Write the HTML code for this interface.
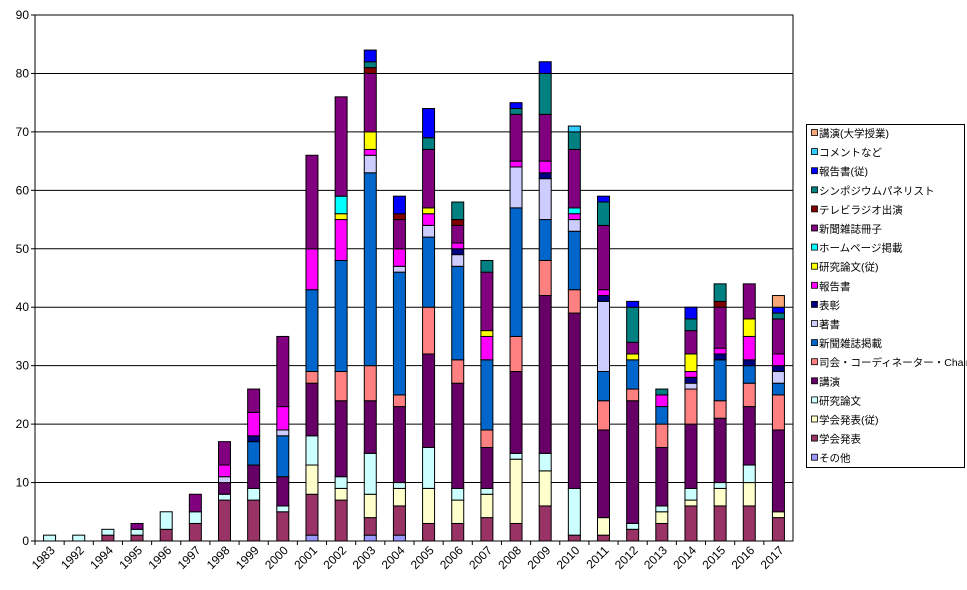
<!DOCTYPE html>
<html><head><meta charset="utf-8"><style>
body{margin:0;background:#fff;}
svg{display:block;font-family:"Liberation Sans","Noto Sans CJK JP",sans-serif;}
</style></head><body>
<svg id="chart" width="967" height="590" viewBox="0 0 967 590" xmlns="http://www.w3.org/2000/svg">
<g id="grid"></g>
<g id="bars"></g>
<g id="axes"></g>
<g id="legend"></g>
</svg>
<script>
const categories = ["1983","1992","1994","1995","1996","1997","1998","1999","2000","2001","2002","2003","2004","2005","2006","2007","2008","2009","2010","2011","2012","2013","2014","2015","2016","2017"];
const seriesNames = ["その他","学会発表","学会発表(従)","研究論文","講演","司会・コーディネーター・Chair","新聞雑誌掲載","著書","表彰","報告書","研究論文(従)","ホームページ掲載","新聞雑誌冊子","テレビラジオ出演","シンポジウムパネリスト","報告書(従)","コメントなど","講演(大学授業)"];
const sOther    = [0,0,0,0,0,0,0,0,0,1,0,1,1,0,0,0,0,0,0,0,0,0,0,0,0,0];
const sGakkai   = [0,0,1,1,2,3,7,7,5,7,7,3,5,3,3,4,3,6,1,1,2,3,6,6,6,4];
const sGakkaiJu = [0,0,0,0,0,0,0,0,0,5,2,4,3,6,4,4,11,6,0,3,0,2,1,3,4,1];
const sRonbun   = [1,1,1,1,3,2,1,2,1,5,2,7,1,7,2,1,1,3,8,0,1,1,2,1,3,0];
const sKoen     = [0,0,0,0,0,0,2,4,5,9,13,9,13,16,18,7,14,27,30,15,21,10,11,11,10,14];
const sShikai   = [0,0,0,0,0,0,0,0,0,2,5,6,2,8,4,3,6,6,4,5,2,4,6,3,4,6];
const sKeisai   = [0,0,0,0,0,0,0,4,7,14,19,33,21,12,16,12,22,7,10,5,5,3,0,7,3,2];
const sChosho   = [0,0,0,0,0,0,1,0,1,0,0,3,1,2,2,0,7,7,2,12,0,0,1,0,0,2];
const sHyosho   = [0,0,0,0,0,0,0,1,0,0,0,0,0,0,1,0,0,1,0,1,0,0,1,1,1,1];
const sHokoku   = [0,0,0,0,0,0,2,4,4,7,7,1,3,2,1,4,1,2,1,1,0,2,1,1,4,2];
const sRonbunJu = [0,0,0,0,0,0,0,0,0,0,1,3,0,1,0,1,0,0,0,0,1,0,3,0,3,0];
const sHP       = [0,0,0,0,0,0,0,0,0,0,3,0,0,0,0,0,0,0,1,0,0,0,0,0,0,0];
const sSasshi   = [0,0,0,1,0,3,4,4,12,16,17,10,5,10,3,10,8,8,10,11,2,0,4,7,6,6];
const sTV       = [0,0,0,0,0,0,0,0,0,0,0,1,1,0,1,0,0,0,0,0,0,0,0,1,0,0];
const sSympo    = [0,0,0,0,0,0,0,0,0,0,0,1,0,2,3,2,1,7,3,4,6,1,2,3,0,1];
const sHokokuJu = [0,0,0,0,0,0,0,0,0,0,0,2,3,5,0,0,1,2,0,1,1,0,2,0,0,1];
const sComment  = [0,0,0,0,0,0,0,0,0,0,0,0,0,0,0,0,0,0,1,0,0,0,0,0,0,0];
const sDaigaku  = [0,0,0,0,0,0,0,0,0,0,0,0,0,0,0,0,0,0,0,0,0,0,0,0,0,2];
const yTicks = [0,10,20,30,40,50,60,70,80,90];

const series = [sOther,sGakkai,sGakkaiJu,sRonbun,sKoen,sShikai,sKeisai,sChosho,sHyosho,sHokoku,sRonbunJu,sHP,sSasshi,sTV,sSympo,sHokokuJu,sComment,sDaigaku];
const colors = ["#9999FF","#993366","#FFFFCC","#CCFFFF","#660066","#FF8080","#0066CC","#CCCCFF","#000080","#FF00FF","#FFFF00","#00FFFF","#800080","#800000","#008080","#0000FF","#33CCFF","#F8A878"];
const keys = ["other","gakkai","gakkai-ju","ronbun","koen","shikai","keisai","chosho","hyosho","hokoku","ronbun-ju","homepage","sasshi","tv-radio","symposium","hokoku-ju","comment","koen-daigaku"];

const NS="http://www.w3.org/2000/svg";
const L=35,R=793,T=15,B=541,yMax=90;
const step=(R-L)/categories.length, bw=12;
function yS(v){return B-(v/yMax)*(B-T);}
function xS(i){return L+step*(i+0.5);}
function mk(tag,attrs,parent){const e=document.createElementNS(NS,tag);for(const k in attrs)e.setAttribute(k,attrs[k]);parent.appendChild(e);return e;}

const grid=document.getElementById('grid'),bars=document.getElementById('bars'),axes=document.getElementById('axes'),legend=document.getElementById('legend');
mk('rect',{x:L,y:T,width:R-L,height:B-T,fill:'#fff',stroke:'#000','stroke-width':1},grid);
yTicks.forEach(v=>{
  const y=yS(v);
  if(v>0){const g=mk('line',{x1:L,x2:R,y1:y,y2:y,stroke:'#000','stroke-width':1},grid);
  
  }
  const tk=mk('line',{x1:L-4,x2:L,y1:y,y2:y,stroke:'#000'},axes);
  const t=mk('text',{x:L-6,y:y+4,'text-anchor':'end','font-size':12},axes);
  t.textContent=v;
  
  
});
mk('line',{x1:L,x2:L,y1:T,y2:B,stroke:'#000'},axes);
mk('line',{x1:L,x2:R,y1:B,y2:B,stroke:'#000'},axes);
categories.forEach((c,i)=>{
  const xt=L+step*i;
  mk('line',{x1:xt,x2:xt,y1:B,y2:B+4,stroke:'#000'},axes);
  const cx=xS(i);
  const t=mk('text',{x:cx+6,y:B+10,'text-anchor':'end','font-size':12,transform:`rotate(-45 ${cx+6} ${B+10})`},axes);
  t.textContent=c;
  
  
  let acc=0;
  series.forEach((s,k)=>{
    const v=s[i]; if(!v) return;
    const y1=yS(acc+v), y0=yS(acc);
    const r=mk('rect',{x:cx-bw/2,y:y1,width:bw,height:y0-y1,fill:colors[k],stroke:'#000','stroke-width':1},bars);
    
    
    acc+=v;
  });
});
mk('rect',{x:806.5,y:124.5,width:158,height:343,fill:'#fff',stroke:'#000'},legend);
for(let j=0;j<series.length;j++){
  const k=series.length-1-j;
  const y=134+j*19.1;
  const g=mk('g',{},legend);
  
  
  mk('rect',{x:811.5,y:y-4.5,width:6,height:6,fill:colors[k],stroke:'#000','stroke-width':0.8},g);
  const t=mk('text',{x:819,y:y+3,'font-size':10.5},g);
  t.textContent=seriesNames[k];
}
</script>
</body></html>
